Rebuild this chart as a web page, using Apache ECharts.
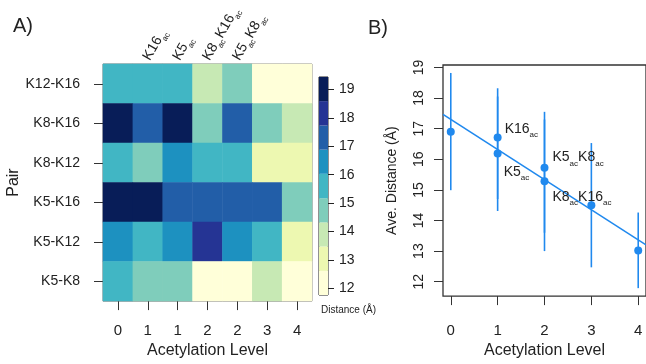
<!DOCTYPE html>
<html>
<head>
<meta charset="utf-8">
<script src="https://cdn.jsdelivr.net/npm/echarts@6/dist/echarts.min.js"></script>
<style>
  html, body { margin: 0; padding: 0; background: #fff; }
  #chart { width: 646px; height: 364px; }
</style>
</head>
<body>
<div id="chart"></div>
<script>
// pairs from top row to bottom row
const pairs = ['K12-K16', 'K8-K16', 'K8-K12', 'K5-K16', 'K5-K12', 'K5-K8'];
const levels = ['0', '1', '1', '2', '2', '3', '4'];
const variants = ['', 'K16ac', 'K5ac', 'K8acK16ac', 'K5acK8ac', '', ''];

// distance (A) per pair, one value per column
const rowK12K16 = [15.6, 15.5, 15.7, 13.9, 14.8, 12.2, 12.1];
const rowK8K16  = [19.1, 17.3, 19.0, 14.7, 17.4, 14.8, 13.9];
const rowK8K12  = [15.5, 14.9, 16.4, 15.6, 15.5, 13.1, 13.0];
const rowK5K16  = [19.2, 19.0, 17.2, 17.3, 17.1, 17.3, 14.8];
const rowK5K12  = [16.5, 15.6, 16.6, 18.1, 16.4, 15.5, 13.0];
const rowK5K8   = [15.6, 14.8, 14.9, 12.3, 12.2, 13.9, 12.3];

// colour breaks and tick labels of the colour bar
const breaks = [11.76, 12.61, 13.47, 14.32, 15.17, 16.03, 16.88, 17.73, 18.59, 19.44];
const palette = ['#ffffd9', '#edf8b1', '#c7e9b4', '#7fcdbb', '#41b6c4', '#1d91c0', '#225ea8', '#253494', '#081d58'];
const barTicks = [12, 13, 14, 15, 16, 17, 18, 19];

// panel B: average distance per variant
const avgLevel = [0, 1, 1, 2, 2, 3, 4];
const avgDist  = [16.90, 16.71, 16.19, 15.72, 15.28, 14.50, 13.02];
const errLow   = [14.99, 14.70, 14.31, 13.60, 13.00, 12.47, 11.79];
const errHigh  = [18.82, 18.32, 18.05, 17.55, 17.30, 16.53, 14.26];
const avgNames = ['', 'K16ac', 'K5ac', 'K5acK8ac', 'K8acK16ac', '', ''];
const levelTicks = [0, 1, 2, 3, 4];
const distTicks = [12, 13, 14, 15, 16, 17, 18, 19];

const FONT = 'Liberation Sans, Arial, sans-serif';
const BLUE = '#2089ee';

const rows = [rowK12K16, rowK8K16, rowK8K12, rowK5K16, rowK5K12, rowK5K8];
const heatData = [];
rows.forEach(function (r, y) {
  r.forEach(function (v, x) { heatData.push([x, y, v]); });
});

const pieces = [];
for (let i = 0; i < palette.length; i++) {
  pieces.push({ gte: breaks[i], lt: breaks[i + 1], color: palette[i] });
}
const barData = [];
for (let i = 0; i < palette.length; i++) {
  barData.push([0, breaks[i], breaks[i + 1], i]);
}

// 'K8acK16ac' -> rich text with subscript ac
function subFmt(s) {
  if (!s) return '';
  return s.replace(/(K\d+)ac/g, '{n|$1}{s|ac}');
}
function richSub(size) {
  return {
    n: { fontSize: size, fontFamily: FONT, color: '#222', lineHeight: size + 3, verticalAlign: 'top' },
    s: { fontSize: 8, fontFamily: FONT, color: '#222', lineHeight: size + 3, verticalAlign: 'bottom' }
  };
}

// least squares line through the averages
let mx = 0, my = 0;
for (let i = 0; i < avgLevel.length; i++) { mx += avgLevel[i]; my += avgDist[i]; }
mx /= avgLevel.length; my /= avgDist.length;
let sxy = 0, sxx = 0;
for (let i = 0; i < avgLevel.length; i++) {
  sxy += (avgLevel[i] - mx) * (avgDist[i] - my);
  sxx += (avgLevel[i] - mx) * (avgLevel[i] - mx);
}
const slope = sxy / sxx;
const icpt = my - slope * mx;
const xMin = -0.166, xMax = 4.166;
const fitData = [[xMin, icpt + slope * xMin], [xMax, icpt + slope * xMax]];

const labelOffset = {
  'K16ac': [-2, -7],
  'K5ac': [-3, 20],
  'K5acK8ac': [-1, -9],
  'K8acK16ac': [-1, 17]
};
const pointData = avgLevel.map(function (x, i) {
  const d = { value: [x, avgDist[i]], name: avgNames[i] };
  if (avgNames[i]) {
    d.label = { show: true, position: 'right', offset: labelOffset[avgNames[i]] };
  }
  return d;
});
const errData = avgLevel.map(function (x, i) { return [x, errLow[i], errHigh[i]]; });

const chart = echarts.init(document.getElementById('chart'), null, { renderer: 'canvas' });

const axisTxt = { color: '#222', fontFamily: FONT };

chart.setOption({
  animation: false,
  backgroundColor: '#fff',
  textStyle: { fontFamily: FONT },
  title: [
    { text: 'A)', left: 8, top: 11, textStyle: { fontSize: 20, fontWeight: 'normal', color: '#222', fontFamily: FONT } },
    { text: 'B)', left: 363, top: 13, textStyle: { fontSize: 20, fontWeight: 'normal', color: '#222', fontFamily: FONT } },
    { text: 'Distance (Å)', left: 316, top: 300, textStyle: { fontSize: 10, fontWeight: 'normal', color: '#222', fontFamily: FONT } }
  ],
  grid: [
    { left: 103, top: 64, width: 209, height: 243, show: true, borderColor: '#777', borderWidth: 1, containLabel: false },
    { left: 319, top: 77, width: 9, height: 218, show: true, borderColor: '#222', borderWidth: 1, containLabel: false },
    { left: 443, top: 65, width: 209, height: 242, show: true, borderColor: '#333', borderWidth: 1.3, containLabel: false }
  ],
  visualMap: {
    type: 'piecewise',
    show: false,
    seriesIndex: 0,
    dimension: 2,
    pieces: pieces
  },
  xAxis: [
    {
      gridIndex: 0, type: 'category', data: levels, position: 'bottom',
      axisLine: { show: false, onZero: false },
      axisTick: { show: true, alignWithLabel: true, length: 9, lineStyle: { color: '#333' } },
      axisLabel: Object.assign({ fontSize: 15, margin: 22 }, axisTxt),
      name: 'Acetylation Level', nameLocation: 'middle', nameGap: 41,
      nameTextStyle: Object.assign({ fontSize: 16 }, axisTxt)
    },
    {
      gridIndex: 1, type: 'value', min: -0.5, max: 0.5, show: false
    },
    {
      gridIndex: 2, type: 'value', min: xMin, max: xMax,
      axisLine: { show: false, onZero: false },
      splitLine: { show: false },
      axisTick: { show: true, length: 9, customValues: levelTicks, lineStyle: { color: '#333' } },
      axisLabel: Object.assign({ fontSize: 15, margin: 27, customValues: levelTicks }, axisTxt),
      name: 'Acetylation Level', nameLocation: 'middle', nameGap: 46,
      nameTextStyle: Object.assign({ fontSize: 16 }, axisTxt)
    },
    {
      gridIndex: 0, type: 'category', data: variants, position: 'top',
      axisLine: { show: false, onZero: false },
      axisTick: { show: false },
      axisLabel: { rotate: -60, margin: 4, interval: 0, formatter: subFmt, rich: richSub(14) }
    }
  ],
  yAxis: [
    {
      gridIndex: 0, type: 'category', data: pairs, inverse: true,
      axisLine: { show: false, onZero: false },
      axisTick: { show: true, alignWithLabel: true, length: 9, lineStyle: { color: '#333' } },
      axisLabel: Object.assign({ fontSize: 14, margin: 23 }, axisTxt),
      name: 'Pair', nameLocation: 'middle', nameGap: 62, nameRotate: 90,
      nameTextStyle: Object.assign({ fontSize: 16 }, axisTxt)
    },
    {
      gridIndex: 1, type: 'value', min: breaks[0], max: breaks[breaks.length - 1], position: 'right',
      axisLine: { show: false, onZero: false },
      splitLine: { show: false },
      axisTick: { show: true, length: 6, customValues: barTicks, lineStyle: { color: '#222' } },
      axisLabel: Object.assign({ fontSize: 14, margin: 11, customValues: barTicks }, axisTxt)
    },
    {
      gridIndex: 2, type: 'value', min: 11.53, max: 19.08,
      axisLine: { show: false, onZero: false },
      splitLine: { show: false },
      axisTick: { show: true, length: 9, customValues: distTicks, lineStyle: { color: '#333' } },
      axisLabel: Object.assign({ fontSize: 14, margin: 17, rotate: 90, customValues: distTicks }, axisTxt),
      name: 'Ave. Distance (Å)', nameLocation: 'middle', nameGap: 44, nameRotate: 90,
      nameTextStyle: Object.assign({ fontSize: 14 }, axisTxt)
    }
  ],
  series: [
    {
      type: 'heatmap',
      xAxisIndex: 0, yAxisIndex: 0,
      data: heatData,
      itemStyle: { borderWidth: 0 }
    },
    {
      type: 'custom',
      xAxisIndex: 1, yAxisIndex: 1,
      data: barData,
      renderItem: function (params, api) {
        const lo = api.coord([0, api.value(1)]);
        const hi = api.coord([0, api.value(2)]);
        const w = params.coordSys.width;
        return {
          type: 'rect',
          shape: { x: params.coordSys.x, y: hi[1], width: w, height: lo[1] - hi[1] },
          style: { fill: palette[api.value(3)] }
        };
      },
      z: 1
    },
    {
      type: 'custom',
      xAxisIndex: 2, yAxisIndex: 2,
      data: errData,
      encode: { x: 0, y: [1, 2] },
      renderItem: function (params, api) {
        const a = api.coord([api.value(0), api.value(1)]);
        const b = api.coord([api.value(0), api.value(2)]);
        return {
          type: 'line',
          shape: { x1: a[0], y1: a[1], x2: b[0], y2: b[1] },
          style: { stroke: BLUE, lineWidth: 1.6 }
        };
      }
    },
    {
      type: 'line',
      xAxisIndex: 2, yAxisIndex: 2,
      data: fitData,
      showSymbol: false,
      lineStyle: { color: BLUE, width: 1.6 },
      clip: true
    },
    {
      type: 'scatter',
      xAxisIndex: 2, yAxisIndex: 2,
      data: pointData,
      symbolSize: 8,
      itemStyle: { color: BLUE, opacity: 1 },
      label: {
        show: false,
        formatter: function (p) { return subFmt(p.name); },
        rich: richSub(14)
      },
      z: 5
    }
  ]
});
</script>
</body>
</html>
